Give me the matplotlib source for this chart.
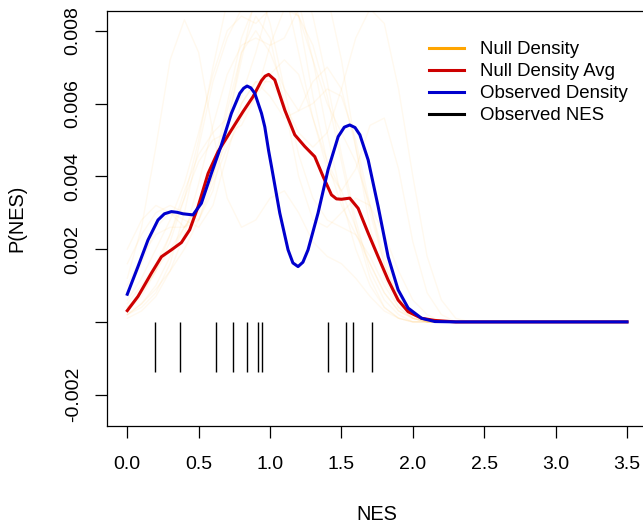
import matplotlib.pyplot as plt
from matplotlib.lines import Line2D

plt.rcParams['font.family'] = ['Liberation Sans', 'DejaVu Sans']

# observed NES values (rug)
obs_nes = [0.192, 0.367, 0.624, 0.737, 0.839, 0.916, 0.947, 1.407, 1.535, 1.582, 1.715]

# observed density (blue)
obs_x = [0.0, 0.075, 0.145, 0.215, 0.26, 0.309, 0.35, 0.39, 0.46, 0.519, 0.589,
         0.659, 0.729, 0.788, 0.815, 0.839, 0.865, 0.893, 0.94, 0.963, 0.99,
         1.01, 1.068, 1.126, 1.16, 1.196, 1.23, 1.266, 1.336, 1.406, 1.477,
         1.52, 1.558, 1.595, 1.629, 1.687, 1.757, 1.827, 1.897, 1.967, 2.061,
         2.154, 2.3, 3.5]
obs_y = [0.00076, 0.00152, 0.00225, 0.0028, 0.00297, 0.00303, 0.00301, 0.00297,
         0.00294, 0.00326, 0.00408, 0.00486, 0.00573, 0.00628, 0.00642, 0.00648,
         0.00643, 0.00628, 0.00573, 0.00536, 0.0047, 0.00427, 0.00299, 0.00198,
         0.00162, 0.00152, 0.00164, 0.00198, 0.00299, 0.00418, 0.00509, 0.00535,
         0.00541, 0.00534, 0.00514, 0.00445, 0.00317, 0.00179, 0.00088, 0.00038,
         0.0001, 0.00001, 0.0, 0.0]

# null density average (red)
avg_x = [0.0, 0.075, 0.169, 0.239, 0.309, 0.379, 0.437, 0.496, 0.566, 0.636,
         0.729, 0.811, 0.881, 0.94, 0.965, 0.99, 1.033, 1.103, 1.173, 1.243,
         1.313, 1.372, 1.43, 1.465, 1.50, 1.558, 1.617, 1.687, 1.757, 1.827,
         1.897, 1.967, 2.061, 2.154, 2.3, 3.5]
avg_y = [0.00031, 0.0007, 0.00134, 0.00179, 0.00198, 0.00218, 0.00253, 0.00317,
         0.00408, 0.00468, 0.00527, 0.00578, 0.00619, 0.00663, 0.00675, 0.0068,
         0.00665, 0.00582, 0.00514, 0.00482, 0.00454, 0.00399, 0.00349, 0.00338,
         0.00337, 0.0034, 0.00312, 0.00244, 0.00179, 0.00115, 0.0006, 0.00028,
         0.0001, 0.00004, 0.0, 0.0]

# null densities (faint orange), values x1e-3
null_x = [0.0, 0.1, 0.2, 0.3, 0.4, 0.5, 0.6, 0.7, 0.8, 0.9, 1.0, 1.1, 1.2,
          1.3, 1.4, 1.5, 1.6, 1.7, 1.8, 1.9, 2.0, 2.1, 2.2, 2.3, 2.4, 3.5]
null_1 = [1.2, 2.6, 4.8, 7.2, 8.3, 7.4, 5.2, 3.4, 2.6, 2.8, 3.4, 3.6, 3.0, 2.2, 1.8, 1.6, 1.2, 0.7, 0.3, 0.1, 0, 0, 0, 0, 0, 0]
null_2 = [0.4, 0.8, 1.4, 2.2, 3.4, 5.0, 7.0, 8.8, 9.6, 9.4, 8.2, 6.4, 4.6, 3.4, 2.8, 2.6, 2.4, 1.8, 1.0, 0.4, 0.1, 0, 0, 0, 0, 0]
null_3 = [0.2, 0.5, 1.0, 1.8, 2.6, 3.2, 4.0, 5.4, 7.2, 9.0, 10.0, 9.2, 7.4, 5.6, 4.4, 3.6, 2.6, 1.6, 0.8, 0.3, 0.1, 0, 0, 0, 0, 0]
null_4 = [0.8, 1.6, 2.6, 3.0, 2.8, 2.6, 3.2, 4.6, 6.0, 6.6, 6.2, 5.6, 5.8, 6.6, 7.0, 6.4, 4.8, 3.0, 1.6, 0.7, 0.2, 0, 0, 0, 0, 0]
null_5 = [0.3, 0.7, 1.4, 2.4, 3.6, 4.6, 5.2, 5.6, 6.2, 7.4, 8.8, 9.8, 9.6, 8.4, 6.6, 4.6, 2.8, 1.4, 0.6, 0.2, 0, 0, 0, 0, 0, 0]
null_6 = [1.6, 2.4, 3.0, 3.2, 3.0, 2.8, 3.6, 5.4, 7.4, 8.4, 7.8, 6.0, 4.0, 2.8, 2.6, 3.0, 3.4, 3.2, 2.4, 1.4, 0.6, 0.2, 0, 0, 0, 0]
null_7 = [0.2, 0.5, 0.9, 1.4, 2.0, 2.8, 3.8, 4.8, 5.6, 6.2, 6.8, 7.2, 6.8, 5.6, 4.2, 3.6, 4.2, 5.4, 5.6, 4.2, 2.2, 0.8, 0.2, 0, 0, 0]
null_8 = [0.6, 1.2, 2.0, 2.8, 3.8, 5.2, 6.8, 8.0, 8.4, 8.2, 8.6, 9.2, 8.8, 7.2, 5.2, 3.4, 2.0, 1.0, 0.4, 0.1, 0, 0, 0, 0, 0, 0]
null_9 = [0.1, 0.3, 0.7, 1.4, 2.4, 3.8, 5.4, 6.8, 7.6, 7.8, 7.6, 7.8, 8.6, 9.4, 9.0, 7.2, 4.8, 2.6, 1.2, 0.4, 0.1, 0, 0, 0, 0, 0]
null_10 = [0.4, 0.8, 1.4, 2.0, 2.6, 3.2, 4.0, 5.0, 6.0, 6.6, 6.6, 6.0, 5.2, 4.8, 5.2, 6.4, 7.8, 8.6, 8.2, 6.4, 4.0, 1.8, 0.6, 0.1, 0, 0]
null_11 = [1.0, 1.8, 2.4, 2.6, 2.6, 3.0, 4.2, 6.0, 7.8, 8.8, 9.0, 8.8, 8.4, 7.6, 6.2, 4.4, 2.6, 1.2, 0.4, 0.1, 0, 0, 0, 0, 0, 0]
null_12 = [0.2, 0.4, 0.8, 1.6, 3.0, 4.8, 6.6, 7.8, 8.6, 9.6, 10.4, 10.0, 8.4, 6.2, 4.4, 3.2, 2.4, 1.6, 0.8, 0.3, 0.1, 0, 0, 0, 0, 0]
null_13 = [0.5, 1.0, 1.6, 2.4, 3.4, 4.4, 5.0, 5.2, 5.4, 6.2, 7.6, 8.6, 8.4, 7.2, 6.0, 5.2, 4.4, 3.2, 1.8, 0.8, 0.2, 0, 0, 0, 0, 0]
null_14 = [2.0, 2.8, 3.2, 3.0, 2.6, 2.8, 4.0, 5.8, 7.4, 8.0, 7.4, 6.4, 5.8, 6.0, 6.4, 6.2, 5.0, 3.2, 1.6, 0.6, 0.1, 0, 0, 0, 0, 0]
null_curves = [null_1, null_2, null_3, null_4, null_5, null_6, null_7,
               null_8, null_9, null_10, null_11, null_12, null_13, null_14]

x_ticks = [0.0, 0.5, 1.0, 1.5, 2.0, 2.5, 3.0, 3.5]
y_ticks = [-0.002, 0.0, 0.002, 0.004, 0.006, 0.008]
y_tick_labels = ['-0.002', '', '0.002', '0.004', '0.006', '0.008']

fig = plt.figure(figsize=(6.43, 5.27), dpi=100)
ax = fig.add_axes([107.3 / 643, 1 - 426 / 527, (647 - 107.3) / 643, (426 - 10.7) / 527])

for curve in null_curves:
    ax.plot(null_x, [v * 1e-3 for v in curve], color='orange', alpha=0.065, lw=1)

ax.vlines(obs_nes, -0.00137, 0, color='black', lw=1)
ax.plot(avg_x, avg_y, color='#CD0000', lw=2.2, solid_joinstyle='round')
ax.plot(obs_x, obs_y, color='#0000CD', lw=2.2, solid_joinstyle='round')

ax.set_xlim(-0.14, 3.64)
ax.set_ylim(-0.00286, 0.00855)
ax.set_xticks(x_ticks)
ax.set_xticklabels(['%.1f' % t for t in x_ticks])
ax.set_yticks(y_ticks)
ax.set_yticklabels(y_tick_labels, rotation=90, va='center')
ax.tick_params(length=8.9, width=0.9, labelsize=14, direction='out')
ax.tick_params(axis='x', pad=13)
ax.tick_params(axis='y', pad=9.5)
for s in ax.spines.values():
    s.set_linewidth(0.9)

ax.set_xlabel('NES', fontsize=14.4, va='center')
ax.xaxis.set_label_coords(0.5, -(515 - 426) / 415.3)
ax.set_ylabel('P(NES)', fontsize=14.4, va='center')
ax.yaxis.set_label_coords((17 - 107.3) / 539.7, 0.5)

handles = [Line2D([], [], color='orange', lw=2.2),
           Line2D([], [], color='#CD0000', lw=2.2),
           Line2D([], [], color='#0000CD', lw=2.2),
           Line2D([], [], color='black', lw=2.2)]
labels = ['Null Density', 'Null Density Avg', 'Observed Density', 'Observed NES']
fig.legend(handles, labels, loc='upper left', bbox_to_anchor=(429 / 643, 1 - 41 / 527),
           frameon=False, fontsize=13.4, borderpad=0, borderaxespad=0,
           handlelength=1.88, handletextpad=0.86, labelspacing=0.27)

fig.savefig('out.png', dpi=100)
